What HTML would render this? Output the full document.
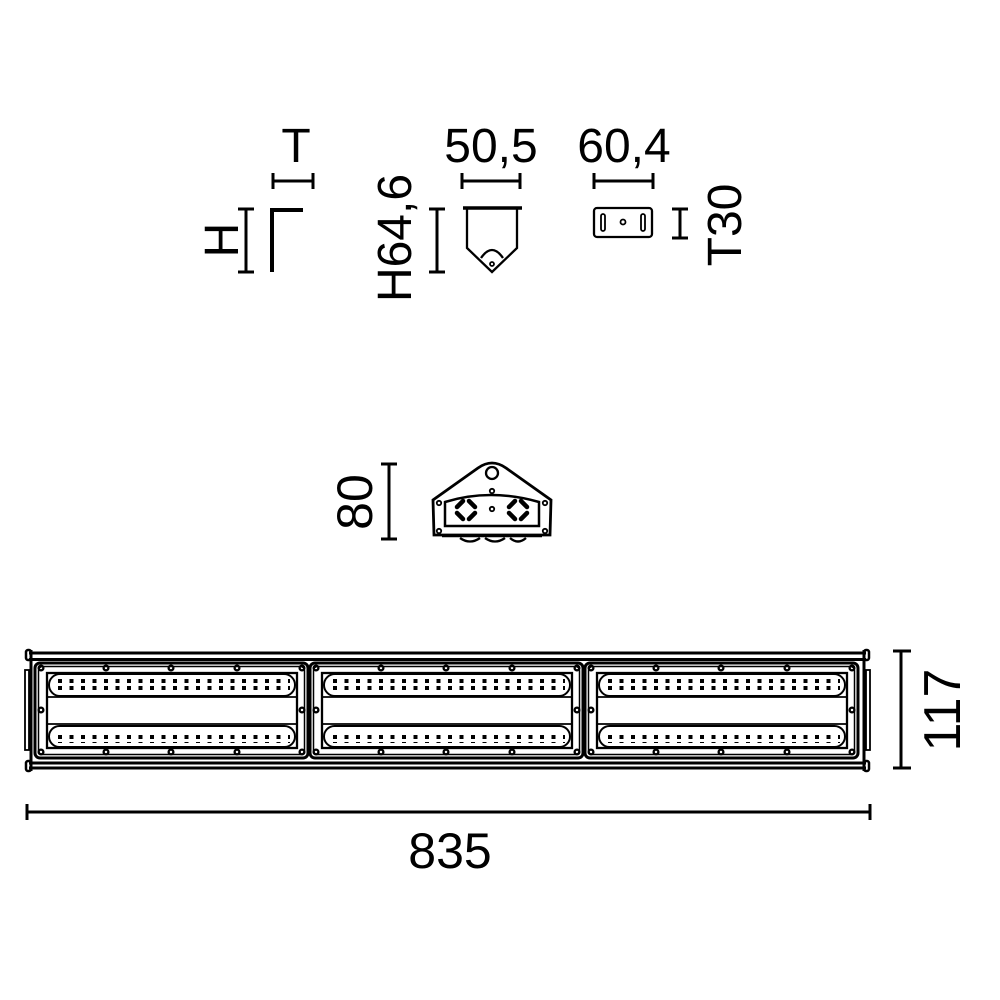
<!DOCTYPE html>
<html><head><style>html,body{margin:0;padding:0;background:#fff}svg{display:block}text{font-family:"Liberation Sans",sans-serif;fill:#000}</style></head>
<body>
<svg width="1000" height="1000" viewBox="0 0 1000 1000" xmlns="http://www.w3.org/2000/svg">
<defs>
<pattern id="dots" x="0" y="0" width="11.5" height="7" patternUnits="userSpaceOnUse">
<rect x="0" y="0" width="4" height="4" fill="#000"/>
</pattern>
<g id="mod" fill="none" stroke="#000">
<rect x="0" y="663" width="273" height="95" rx="5" stroke-width="3"/>
<rect x="3.5" y="666.5" width="266" height="88" rx="4" stroke-width="1.5"/>
<g stroke-width="2.3">
<circle cx="6" cy="668" r="2.4"/><circle cx="71" cy="668" r="2.4"/><circle cx="136" cy="668" r="2.4"/><circle cx="202" cy="668" r="2.4"/><circle cx="267" cy="668" r="2.4"/>
<circle cx="6" cy="752" r="2.4"/><circle cx="71" cy="752" r="2.4"/><circle cx="136" cy="752" r="2.4"/><circle cx="202" cy="752" r="2.4"/><circle cx="267" cy="752" r="2.4"/>
<circle cx="6" cy="710" r="2.4"/><circle cx="267" cy="710" r="2.4"/>
</g>
<rect x="12" y="673" width="250" height="75" stroke-width="2.3"/>
<rect x="14" y="674" width="246" height="22" rx="11" stroke-width="2"/>
<rect x="14" y="726" width="246" height="21" rx="10.5" stroke-width="2"/>
<line x1="12" y1="697" x2="262" y2="697" stroke-width="1.8"/>
<line x1="12" y1="724" x2="262" y2="724" stroke-width="1.8"/>
<rect x="21" y="679" width="234" height="11" fill="url(#dots)" stroke="none"/>
<rect x="21" y="732" width="234" height="11" fill="url(#dots)" stroke="none"/>
</g>
</defs>

<text x="296" y="162" font-size="48" text-anchor="middle">T</text>
<g stroke="#000" stroke-width="3" fill="none">
<path d="M273 181H313M273 173V189M313 173V189"/>
<path d="M246 209V272M238 209H254M238 272H254"/>
<path d="M272 272V210H303" stroke-width="4"/>
<path d="M437 209V272M429 209H445M429 272H445"/>
<path d="M462 181H520M462 173V189M520 173V189"/>
<path d="M594 181H653M594 173V189M653 173V189"/>
<path d="M680 209V238M672 209H688M672 238H688"/>
<path d="M463 208H522" stroke-width="3.5"/>
<path d="M467 209V248L492 272L517 248V209" stroke-width="2.3"/>
<path d="M481 258Q492 242 503 258" stroke-width="2.3"/>
<circle cx="492" cy="264" r="2" stroke-width="1.8"/>
<rect x="594" y="208" width="58" height="29" rx="3" stroke-width="2.3"/>
<rect x="601" y="214" width="4" height="17" rx="2" stroke-width="1.8"/>
<rect x="641" y="214" width="4" height="17" rx="2" stroke-width="1.8"/>
<circle cx="623" cy="222" r="2.5" stroke-width="1.8"/>
</g>
<text transform="translate(238,240) rotate(-90)" font-size="48" text-anchor="middle">H</text>
<text transform="translate(411,238) rotate(-90)" font-size="48" text-anchor="middle">H64,6</text>
<text x="491" y="162" font-size="48" text-anchor="middle">50,5</text>
<text x="624" y="162" font-size="48" text-anchor="middle">60,4</text>
<text transform="translate(741,225) rotate(-90)" font-size="48" text-anchor="middle">T30</text>

<g stroke="#000" stroke-width="3" fill="none">
<path d="M389 464V539M381 464H397M381 539H397"/>
<path d="M434 535L433 500L478 468Q492 458 506 468L551 500L550 535Z" stroke-width="2.8"/>
<circle cx="492" cy="473" r="6" stroke-width="2.3"/>
<path d="M445 526V502Q490 488 539 502V526Z" stroke-width="2.5"/>
<circle cx="439" cy="503" r="2.2" stroke-width="1.8"/><circle cx="545" cy="503" r="2.2" stroke-width="1.8"/>
<circle cx="439" cy="531" r="2.2" stroke-width="1.8"/><circle cx="545" cy="531" r="2.2" stroke-width="1.8"/>
<circle cx="492" cy="491" r="2.2" stroke-width="1.8"/><circle cx="492" cy="509" r="2.2" stroke-width="1.8"/>
<g stroke-width="4.5" stroke-linecap="round">
<path d="M457 507L463 501M469 501L475 507M475 513L469 519M463 519L457 513"/>
<path d="M509 507L515 501M521 501L527 507M527 513L521 519M515 519L509 513"/>
</g>
<path d="M442 536H542" stroke-width="2.5"/>
<path d="M460 538Q470 545 480 538M485 538Q495 545 505 538M510 538Q518 545 526 538" stroke-width="2.3"/>
</g>
<text transform="translate(372,502) rotate(-90)" font-size="50" text-anchor="middle">80</text>

<g stroke="#000" fill="none">
<path d="M29 653H866M29 659.5H866M29 763H866M29 768H866" stroke-width="3"/>
<path d="M31 650V771M864 650V771" stroke-width="3"/>
<rect x="26" y="650" width="5" height="10" rx="2" stroke-width="2.5"/>
<rect x="26" y="761" width="5" height="10" rx="2" stroke-width="2.5"/>
<rect x="864" y="650" width="5" height="10" rx="2" stroke-width="2.5"/>
<rect x="864" y="761" width="5" height="10" rx="2" stroke-width="2.5"/>
<rect x="25" y="670" width="4" height="80" stroke-width="1.8"/>
<rect x="866" y="670" width="4" height="80" stroke-width="1.8"/>
</g>
<use href="#mod" x="35"/>
<use href="#mod" x="310"/>
<use href="#mod" x="585"/>

<g stroke="#000" stroke-width="3" fill="none">
<path d="M901 651V768M893 651H911M893 768H911"/>
<path d="M27 812H870M27 804V820M870 804V820"/>
</g>
<text transform="translate(960,710) rotate(-90)" font-size="52" text-anchor="middle">117</text>
<text x="450" y="868" font-size="50" text-anchor="middle">835</text>
</svg>
</body></html>
